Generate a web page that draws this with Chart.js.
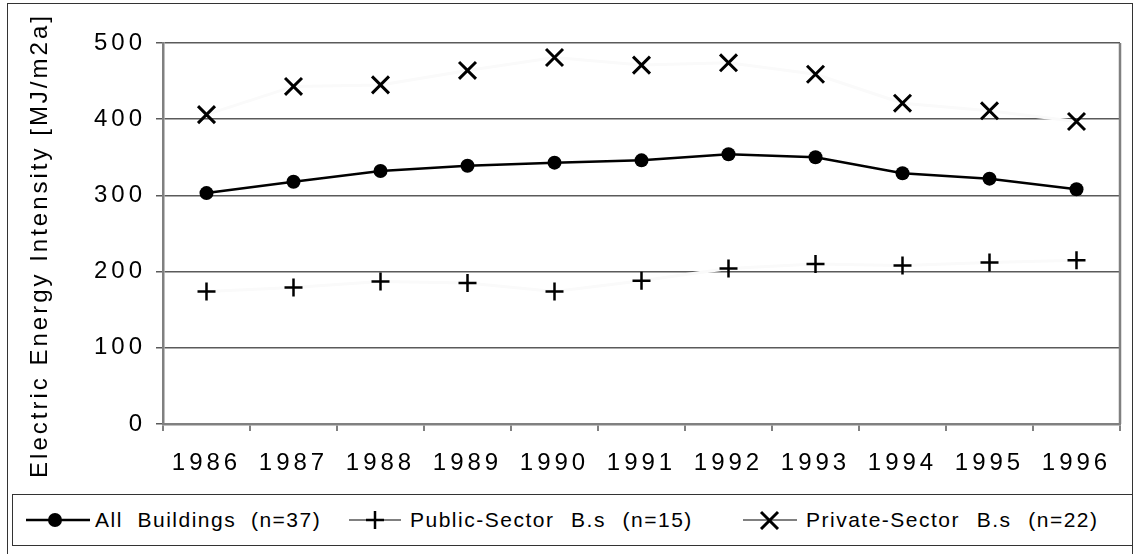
<!DOCTYPE html>
<html>
<head>
<meta charset="utf-8">
<script src="https://cdn.jsdelivr.net/npm/chart.js@4/dist/chart.umd.min.js"></script>
<style>
  html, body { margin: 0; background: #fff; }
  #wrap { position: relative; width: 1135px; height: 554px; overflow: hidden;
          font-family: "Liberation Sans", Arial, sans-serif; }
  #frame { position: absolute; left: 7px; top: 3px; width: 1126px; height: 600px;
           border: 1.5px solid #333; box-sizing: border-box; }
  #c { position: absolute; left: 0; top: 0; }
  #legend { position: absolute; left: 12px; top: 494px; width: 1121px; height: 52px;
            border: 1.5px solid #333; box-sizing: border-box; background: #fff; }
  .item { position: absolute; top: 0; height: 100%; display: flex; align-items: center;
          font-size: 21px; letter-spacing: 1.5px; color: #000; white-space: pre; }
  .item.wide { word-spacing: 1px; }
  .item svg { margin-right: 5px; }
</style>
</head>
<body>
<div id="wrap">
  <div id="frame"></div>
  <canvas id="c" width="1135" height="554"></canvas>
  <div id="legend">
    <span class="item" style="left:13px">
      <svg width="64" height="20"><line x1="0" y1="10" x2="64" y2="10" stroke="#000" stroke-width="2.5"/><circle cx="29" cy="10" r="7" fill="#000"/></svg>All  Buildings  (n=37)</span>
    <span class="item wide" style="left:332px">
      <svg width="60" height="20"><line x1="4" y1="10" x2="56" y2="10" stroke="#808080" stroke-width="2"/><line x1="21" y1="10" x2="39" y2="10" stroke="#000" stroke-width="2.5"/><line x1="30" y1="1" x2="30" y2="19" stroke="#000" stroke-width="2.5"/></svg>Public-Sector  B.s  (n=15)</span>
    <span class="item wide" style="left:726px">
      <svg width="62" height="20"><line x1="4" y1="10" x2="58" y2="10" stroke="#808080" stroke-width="2"/><line x1="22" y1="2" x2="39" y2="19" stroke="#000" stroke-width="3"/><line x1="39" y1="2" x2="22" y2="19" stroke="#000" stroke-width="3"/></svg>Private-Sector  B.s  (n=22)</span>
  </div>
</div>
<script>
// 연도별 전력 원단위 (MJ/m2a) — 그림에서 읽은 값
const YEARS = ["1986", "1987", "1988", "1989", "1990", "1991", "1992", "1993", "1994", "1995", "1996"];
const ALL_BUILDINGS = [303, 318, 332, 339, 343, 346, 354, 350, 329, 322, 308];
const PUBLIC_SECTOR = [174, 179, 187, 185, 174, 188, 204, 210, 208, 212, 215];
const PRIVATE_SECTOR = [406, 443, 445, 464, 481, 471, 474, 459, 421, 411, 397];
const Y_TICKS = [0, 100, 200, 300, 400, 500];

const AXIS_GRAY = "#808080";
const GRID_GRAY = "#5a5a5a";
const FAINT = "#fafafa"; // 공공/민간 계열선은 거의 흰색 (격자선만 끊어 보임)

Chart.defaults.font.family = '"Liberation Sans", Arial, sans-serif';
Chart.defaults.color = "#000";

// 엑셀식 넓은 자간 + 오른쪽 테두리
const excelLook = {
  id: "excelLook",
  beforeDraw(chart) {
    chart.ctx.letterSpacing = "4px";
    const y = chart.scales.y;
    if (!y._patched) {
      const orig = y.drawTitle;
      y.drawTitle = function () {
        const ctx = this.ctx;
        ctx.save();
        ctx.letterSpacing = "3px";
        ctx.translate(0, 12);
        orig.apply(this, arguments);
        ctx.restore();
      };
      y._patched = true;
    }
  },
  afterDraw(chart) {
    const { ctx, chartArea: a } = chart;
    ctx.save();
    ctx.strokeStyle = AXIS_GRAY;
    ctx.lineWidth = 2.5;
    ctx.beginPath();
    ctx.moveTo(a.right, a.top);
    ctx.lineTo(a.right, a.bottom);
    ctx.stroke();
    ctx.restore();
  },
};

new Chart(document.getElementById("c"), {
  type: "line",
  data: {
    labels: YEARS,
    datasets: [
      {
        label: "All Buildings (n=37)",
        data: ALL_BUILDINGS,
        borderColor: "#000",
        backgroundColor: "#000",
        borderWidth: 2.5,
        pointStyle: "circle",
        pointRadius: 7,
        pointBorderWidth: 0,
        tension: 0,
        order: 1,
      },
      {
        label: "Public-Sector B.s (n=15)",
        data: PUBLIC_SECTOR,
        borderColor: FAINT,
        borderWidth: 3,
        pointStyle: "cross",
        pointRadius: 9,
        pointBorderColor: "#000",
        pointBorderWidth: 2.5,
        tension: 0,
        order: 2,
      },
      {
        label: "Private-Sector B.s (n=22)",
        data: PRIVATE_SECTOR,
        borderColor: FAINT,
        borderWidth: 3,
        pointStyle: "crossRot",
        pointRadius: 12,
        pointBorderColor: "#000",
        pointBorderWidth: 3,
        tension: 0,
        order: 3,
      },
    ],
  },
  options: {
    responsive: false,
    animation: false,
    layout: { padding: { left: 0, top: 43, right: 11, bottom: 0 } },
    plugins: { legend: { display: false }, tooltip: { enabled: false } },
    scales: {
      x: {
        offset: true,
        grid: { drawOnChartArea: false, offset: true, tickLength: 7, color: AXIS_GRAY, lineWidth: 2 },
        border: { color: AXIS_GRAY, width: 2.5 },
        ticks: { font: { size: 24 }, padding: 18, maxRotation: 0, autoSkip: false },
        afterFit: (s) => { s.height = 130; },
      },
      y: {
        min: 0,
        max: 500,
        afterBuildTicks: (s) => { s.ticks = Y_TICKS.map((v) => ({ value: v })); },
        grid: { color: GRID_GRAY, lineWidth: 1.5, tickLength: 7 },
        border: { color: AXIS_GRAY, width: 2.5 },
        ticks: { font: { size: 24 }, padding: 10 },
        title: {
          display: true,
          text: "Electric Energy Intensity [MJ/m2a]",
          font: { size: 24 },
          padding: { top: 26, bottom: 0 },
        },
        afterFit: (s) => { s.width = 163; },
      },
    },
  },
  plugins: [excelLook],
});
</script>
</body>
</html>
